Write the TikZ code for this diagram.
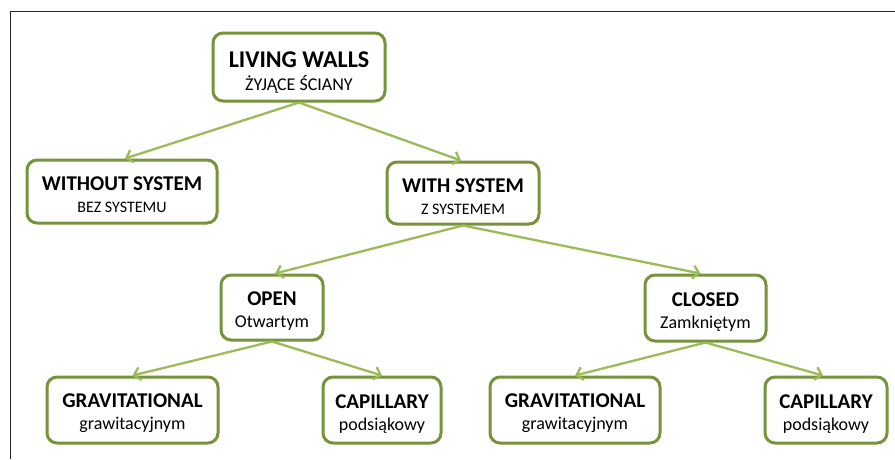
\documentclass[tikz,border=0pt]{standalone}
\usepackage{fontspec}
\setmainfont{Carlito}
\usetikzlibrary{arrows.meta}
\definecolor{boxgreen}{HTML}{77933C}
\definecolor{arrgreen}{HTML}{9BBB59}
\definecolor{framegray}{HTML}{262626}
\newcommand\bigttl{\fontsize{24}{23}\bfseries\selectfont\rule{0pt}{26pt}}
\newcommand\bigsub{\fontsize{18}{23}\selectfont}
\newcommand\ttl{\fontsize{21}{22}\bfseries\selectfont\rule{0pt}{21pt}}
\newcommand\sub{\fontsize{16}{22}\selectfont}
\newcommand\lsub{\fontsize{18}{22}\selectfont}
\tikzset{
  cbox/.style={draw=boxgreen, line width=3pt, rounded corners=10pt, fill=white,
    align=center, inner sep=0pt, text=black, font=\fontsize{16}{22}\selectfont},
  topbox/.style={cbox, font=\fontsize{18}{23}\selectfont},
  conn/.style={draw=arrgreen, line width=2.3pt,
    -{Straight Barb[length=6pt,width=13pt]}},
  frameline/.style={draw=framegray, line width=1.4pt}
}
\begin{document}
\begin{tikzpicture}[x=1pt,y=-1pt]
\useasboundingbox (0,0) rectangle (895,459);
\fill[white] (0,0) rectangle (895,459);
\coordinate (fa) at (10.5,459);
\coordinate (fb) at (10.5,11.5);
\coordinate (fc) at (895,11.5);
\draw[frameline] (fa) -- (fb) -- (fc);

\node[topbox, minimum width=172pt, minimum height=68pt] (lw) at (299,67)
  {\bigttl LIVING WALLS\\\bigsub ŻYJĄCE ŚCIANY};
\node[cbox, minimum width=190pt, minimum height=63pt] (wo) at (122,191.5)
  {\ttl WITHOUT SYSTEM\\\sub BEZ SYSTEMU};
\node[cbox, minimum width=152pt, minimum height=62pt] (ws) at (463,193)
  {\ttl WITH SYSTEM\\\sub Z SYSTEMEM};
\node[cbox, minimum width=102pt, minimum height=65pt] (op) at (272,307.5)
  {\ttl OPEN\\\lsub Otwartym};
\node[cbox, minimum width=121pt, minimum height=66pt] (cl) at (705.5,308)
  {\ttl CLOSED\\\lsub Zamkniętym};
\node[cbox, minimum width=171pt, minimum height=66pt] (g1) at (132.5,410)
  {\ttl GRAVITATIONAL\\\lsub grawitacyjnym};
\node[cbox, minimum width=118pt, minimum height=66pt] (c1) at (382,410)
  {\ttl CAPILLARY\\\lsub podsiąkowy};
\node[cbox, minimum width=170pt, minimum height=66pt] (g2) at (575,410)
  {\ttl GRAVITATIONAL\\\lsub grawitacyjnym};
\node[cbox, minimum width=122pt, minimum height=66pt] (c2) at (826,410)
  {\ttl CAPILLARY\\\lsub podsiąkowy};

\draw[conn] (lw.south) -- ([xshift=3pt]wo.north);
\draw[conn] (lw.south) -- ([xshift=-2pt]ws.north);
\draw[conn] (ws.south) -- ([xshift=3pt]op.north);
\draw[conn] (ws.south) -- ([xshift=-5pt]cl.north);
\draw[conn] (op.south) -- (g1.north);
\draw[conn] (op.south) -- (c1.north);
\draw[conn] (cl.south) -- (g2.north);
\draw[conn] (cl.south) -- ([xshift=-3pt]c2.north);
\end{tikzpicture}
\end{document}
